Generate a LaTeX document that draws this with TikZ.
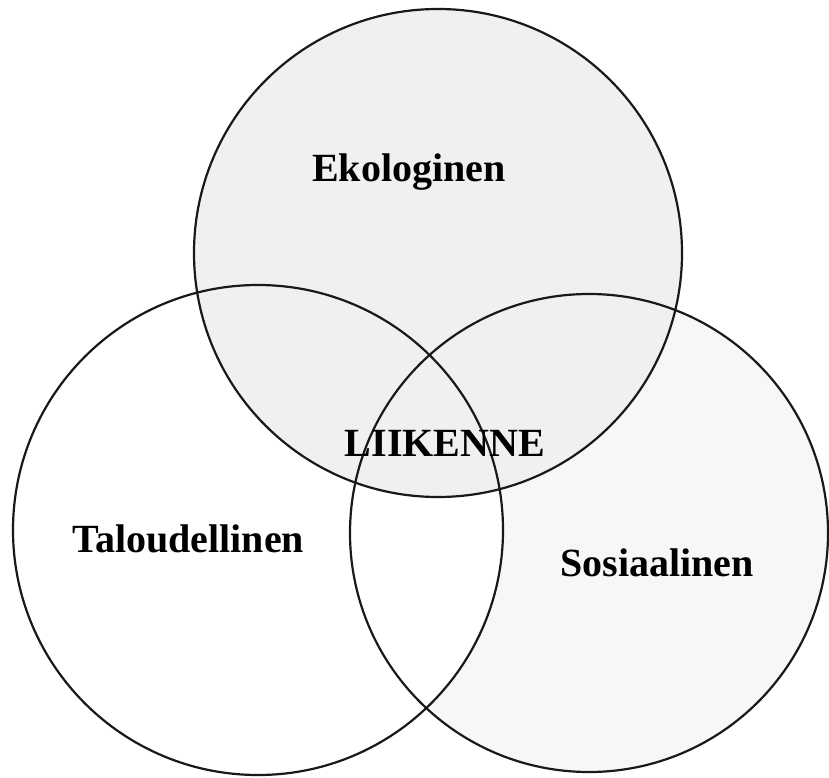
\documentclass[tikz,border=0pt]{standalone}
\usepackage{fontspec}
\setmainfont{Liberation Serif}
\begin{document}
\begin{tikzpicture}[x=1pt,y=-1pt,
  ring/.style={draw=black!90, line width=2.2pt},
  lbl/.style={anchor=base, inner sep=0pt, font=\fontsize{40}{48}\selectfont\bfseries}]
\useasboundingbox (0,0) rectangle (829,778);
\fill[white] (0,0) rectangle (829,778);
% fills
\fill[black!3] (589,533) circle[radius=239];
\fill[white] (258,530) circle[radius=245];
\fill[black!6] (438,253) circle[radius=244];
% outlines
\draw[ring] (589,533) circle[radius=239];
\draw[ring] (258,530) circle[radius=245];
\draw[ring] (438,253) circle[radius=244];
% labels
\node[lbl] (eko) at (409,182) {Ekologinen};
\node[lbl] (lii) at (445,456) {LIIKENNE};
\node[lbl] (tal) at (188,552) {Taloudellinen};
\node[lbl] (sos) at (657,576) {Sosiaalinen};
\end{tikzpicture}
\end{document}
